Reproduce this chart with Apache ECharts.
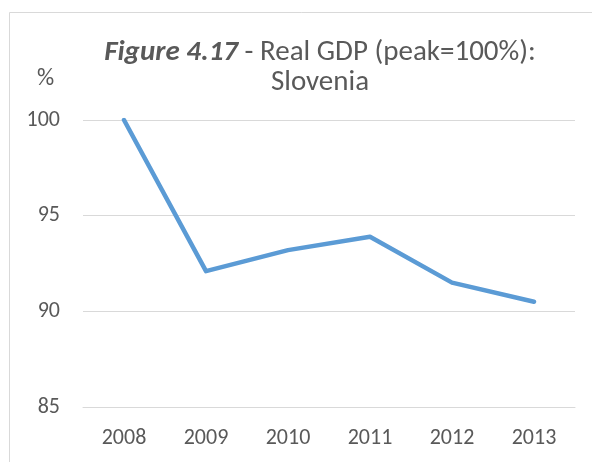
<!DOCTYPE html>
<html>
<head>
  <meta charset="utf-8">
  <script src="https://cdn.jsdelivr.net/npm/echarts@6/dist/echarts.min.js"></script>
  <style>
    html, body { margin: 0; padding: 0; background: #fff; }
  </style>
  <title>Real GDP Slovenia</title>
  <script type="text/javascript">
    // values
    const years = ['2008', '2009', '2010', '2011', '2012', '2013'];
    const gdp = [100, 92.1, 93.2, 93.9, 91.5, 90.5];
    const yTicks = [85, 90, 95, 100];

    const FONT = "Carlito, 'Open Sans', sans-serif";
    const GREY = '#595959';

    function init() {
      const myChart = echarts.init(document.getElementById('main'));
      const option = {
        animation: false,
        backgroundColor: '#fff',
        title: {
          text: '{b|Figure 4.17} - Real GDP (peak=100%):\nSlovenia',
          left: 315,
          top: 33,
          textAlign: 'center',
          textStyle: {
            fontFamily: FONT,
            fontSize: 29,
            fontWeight: 'normal',
            color: GREY,
            lineHeight: 30,
            rich: {
              b: { fontFamily: FONT, fontSize: 29, fontWeight: 'bold', fontStyle: 'italic', color: GREY, lineHeight: 30 }
            }
          }
        },
        graphic: [
          {
            type: 'rect',
            shape: { x: 9.5, y: 12.5, width: 620, height: 480 },
            style: { fill: 'none', stroke: '#d9d9d9', lineWidth: 1 },
            silent: true
          },
          {
            type: 'text',
            left: 37,
            top: 67,
            style: { text: '%', fontFamily: FONT, fontSize: 24, fill: GREY }
          }
        ],
        grid: { left: 83, right: 17, top: 120, bottom: 55 },
        xAxis: {
          type: 'category',
          data: years,
          boundaryGap: true,
          axisLine: { show: true, lineStyle: { color: '#d9d9d9' } },
          axisTick: { show: false },
          axisLabel: { fontFamily: FONT, fontSize: 22, color: GREY, margin: 20 }
        },
        yAxis: {
          type: 'value',
          min: yTicks[0],
          max: yTicks[yTicks.length - 1],
          interval: 5,
          axisLine: { show: false },
          axisTick: { show: false },
          axisLabel: { fontFamily: FONT, fontSize: 22, color: GREY, margin: 23 },
          splitLine: { lineStyle: { color: '#d9d9d9', width: 1 } }
        },
        series: [
          {
            type: 'line',
            data: gdp,
            symbol: 'none',
            lineStyle: { color: '#5b9bd5', width: 4.5, cap: 'round', join: 'round' }
          }
        ]
      };
      myChart.setOption(option);
    }
  </script>
</head>
<body onload="init()">
  <div id="main" style="width: 592px; height: 462px;"></div>
</body>
</html>
